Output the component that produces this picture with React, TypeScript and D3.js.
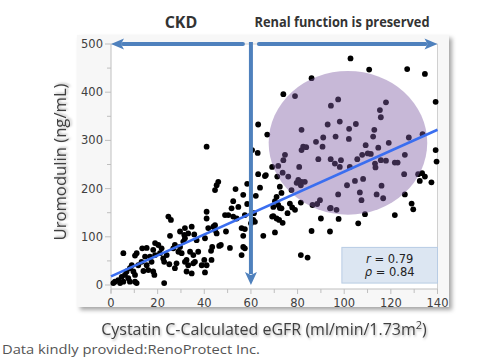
import React from "react";
import * as d3 from "d3";

// Cystatin C-calculated eGFR (ml/min/1.73m2)
const egfr: number[] = [
  102.7, 110.7, 127, 134.6, 139.2, 97.4, 94.3, 117.9, 115.3, 115.7, 98.1, 105, 92.9, 102.1, 112.9, 96.3, 102, 112.4, 119.1, 127.7,
  133.6, 109.2, 114.6, 107.7, 110.1, 111.4, 105.6, 126, 94.2, 98.6, 96, 113.2, 115.7, 117.9, 121.7, 122.9, 139.2, 139.6, 98.1, 113.4,
  102.4, 94.2, 96.7, 97.6, 93.9, 106, 108.9, 121.7, 97.4, 101.2, 104.6, 108.1, 106.7, 107.4, 113.9, 116.7, 116, 125.7, 126, 128.9,
  129.6, 131.7, 132.4, 134.6, 137.4, 133.4, 86, 73.9, 78.9, 63.1, 67, 81.7, 91, 87.9, 82.4, 81.7, 90.7, 74.6, 73.9, 80.7,
  88.9, 71.7, 73.6, 76, 80.3, 81.7, 79.6, 83.1, 81.4, 77.4, 71.3, 72.4, 69.1, 66, 58.4, 63.9, 56.7, 62.1, 71, 73.1,
  88.4, 86.4, 89.6, 93.9, 90, 81.4, 76.7, 72.4, 69.6, 78.9, 69.6, 72.1, 73.6, 75.7, 86, 65.3, 70.3, 57.4, 61.3, 58.4,
  63.1, 66.4, 62.9, 60.5, 83.7, 46, 53.4, 52.4, 54.6, 51.7, 48.9, 50.3, 52.4, 53.9, 57.4, 61, 60, 61.7, 70.3, 73.1,
  71.7, 69.1, 71, 77.7, 81.4, 84.3, 56.7, 56.7, 57.4, 56, 51, 47.1, 46.4, 49.3, 45.3, 44.6, 56, 45.3, 24.6, 25.7,
  41, 41, 25.3, 34.6, 31.4, 31.7, 35.7, 36.7, 40.3, 41.7, 43.9, 44.6, 43.4, 42.9, 43.1, 40.3, 38.9, 35.3, 33.1, 35.3,
  33.9, 32.4, 32.4, 34.6, 31.7, 30.3, 29.6, 28.9, 28.1, 27.4, 25, 22.4, 22.8, 18.9, 20.3, 18.1, 21.7, 21, 23.9, 22.8,
  18.9, 16.7, 17.4, 14.6, 15.3, 16, 18.1, 18.6, 13.9, 11.7, 13.1, 11, 10.3, 13.4, 15.3, 5.3, 8.9, 8.1, 6.7, 9.6,
  10.3, 6, 7.4, 4.6, 3.1, 1.7, 1, 5.3, 8.1, 10.3, 3.9, 11, 31, 27.4, 26.7, 37.4, 36, 40, 41, 33.1,
  29.6, 31.7, 44.6, 41,
];

// Uromodulin (ng/mL)
const uromodulin: number[] = [
  470, 447, 448, 438, 380, 385, 372, 379, 363, 348, 339, 334, 333, 324, 322, 308, 303, 308, 295, 306,
  313, 290, 285, 270, 273, 272, 261, 270, 261, 259, 252, 252, 259, 258, 254, 254, 280, 256, 245, 244,
  245, 160, 156, 137, 111, 128, 147, 145, 188, 207, 216, 220, 192, 176, 188, 180, 206, 230, 188, 169,
  157, 230, 216, 225, 213, 232, 429, 396, 392, 333, 312, 322, 306, 297, 287, 280, 287, 270, 259, 245,
  261, 247, 233, 225, 218, 214, 212, 214, 207, 197, 225, 204, 245, 226, 210, 202, 187, 185, 183, 191,
  168, 166, 176, 159, 138, 171, 169, 160, 162, 156, 143, 135, 129, 149, 112, 102, 109, 116, 149, 168,
  230, 228, 274, 280, 286, 214, 199, 174, 162, 159, 145, 145, 142, 138, 145, 135, 128, 131, 174, 159,
  166, 142, 138, 161, 62, 57, 102, 79, 76, 62, 77, 83, 81, 111, 107, 124, 118, 207, 142, 135,
  152, 138, 102, 121, 104, 97, 105, 93, 97, 118, 121, 114, 79, 71, 52, 26, 41, 45, 41, 62,
  69, 52, 28, 24, 48, 66, 79, 69, 45, 35, 43, 55, 4, 87, 83, 73, 76, 66, 62, 48,
  62, 59, 48, 59, 41, 31, 28, 21, 29, 41, 48, 66, 61, 76, 77, 66, 41, 35, 28, 28,
  21, 21, 14, 17, 10, 7, 4, 7, 7, 7, 4, 4, 90, 83, 76, 69, 48, 52, 41, 107,
  111, 118, 197, 287,
];

const xTicks = [0, 20, 40, 60, 80, 100, 120, 140];
const xMinorTicks = [10, 30, 50, 70, 90, 110, 130];
const yTicks = [0, 100, 200, 300, 400, 500];
const yMinorTicks = [50, 150, 250, 350, 450];

// regression line endpoints (eGFR, uromodulin)
const regX = [0, 140];
const regY = [18, 322];

// highlighted cluster (centre and radii in data units)
const clusterCenter = [101.6, 295];
const clusterRadii = [34, 149];

// CKD cut-off
const cutoff = 60;

const statLabels = ["r", "ρ"];
const statValues = ["0.79", "0.84"];

export default function App() {
  const x = d3.scaleLinear().domain([0, 140]).range([111, 437.5]);
  const y = d3.scaleLinear().domain([0, 500]).range([285, 44]);
  const axisY = 289;
  const arrowColor = "#4f81bd";
  const tickColor = "#bfbfbf";
  const labelColor = "#404040";

  const regLine = d3.line<number>()
    .x((_, i) => x(regX[i]))
    .y((_, i) => y(regY[i]));

  const points = egfr.map((e, i) => [e, uromodulin[i]]);

  const top = y(500);
  const left = x(0);
  const right = x(140);
  const cx = x(cutoff);
  const head = 13;
  const hw = 5.5;

  return (
    <svg width={500} height={360} style={{ position: "absolute", left: 0, top: 0 }} fontFamily="'Open Sans', sans-serif">
      <defs>
        <filter id="shadow" x="-5%" y="-5%" width="115%" height="115%">
          <feDropShadow dx="3" dy="3" stdDeviation="2" floodColor="#000" floodOpacity="0.35" />
        </filter>
        <filter id="tshadow" x="-10%" y="-30%" width="120%" height="160%">
          <feDropShadow dx="1" dy="1.5" stdDeviation="1.2" floodColor="#000" floodOpacity="0.3" />
        </filter>
      </defs>
      <rect x={0} y={0} width={500} height={360} fill="#ffffff" />
      {/* panel */}
      <rect x={77} y={35} width={372} height={272} fill="#f7f7f7" filter="url(#shadow)" />
      <rect x={left} y={top} width={right - left} height={axisY - top} fill="#ffffff" />
      <line x1={left} x2={right} y1={top} y2={top} stroke="#d0d0d0" />
      <line x1={right} x2={right} y1={top} y2={axisY} stroke="#d0d0d0" />

      {/* axes */}
      <line x1={left} x2={left} y1={top} y2={axisY + 4} stroke={tickColor} />
      <line x1={left} x2={right} y1={axisY} y2={axisY} stroke={tickColor} />
      {yTicks.map((t) => (
        <g key={"y" + t}>
          <line x1={left - 6} x2={left} y1={y(t)} y2={y(t)} stroke={tickColor} />
          <text x={left - 8} y={y(t)} dy="0.35em" textAnchor="end" fontSize={11.5} fontFamily="'DejaVu Sans', sans-serif" fill={labelColor}>{t}</text>
        </g>
      ))}
      {yMinorTicks.map((t) => (
        <line key={"ym" + t} x1={left - 4} x2={left} y1={y(t)} y2={y(t)} stroke={tickColor} />
      ))}
      {xTicks.map((t) => (
        <g key={"x" + t}>
          <line x1={x(t)} x2={x(t)} y1={axisY} y2={axisY + 5} stroke={tickColor} />
          <text x={x(t)} y={axisY + 14} dy="0.35em" textAnchor="middle" fontSize={11.5} fontFamily="'DejaVu Sans', sans-serif" fill={labelColor}>{t}</text>
        </g>
      ))}
      {xMinorTicks.map((t) => (
        <line key={"xm" + t} x1={x(t)} x2={x(t)} y1={axisY} y2={axisY + 4} stroke={tickColor} />
      ))}

      {/* points */}
      {points.map((p, i) => (
        <circle key={i} cx={x(p[0])} cy={y(p[1])} r={2.9} fill="#000" />
      ))}

      {/* cluster ellipse */}
      <ellipse
        cx={x(clusterCenter[0])}
        cy={y(clusterCenter[1])}
        rx={x(clusterCenter[0] + clusterRadii[0]) - x(clusterCenter[0])}
        ry={y(clusterCenter[1]) - y(clusterCenter[1] + clusterRadii[1])}
        fill="rgb(128,93,163)"
        fillOpacity={0.44}
      />

      {/* regression line */}
      <path d={regLine([0, 1]) || ""} stroke="#3a6ef0" strokeWidth={2.6} fill="none" />

      {/* stats box */}
      <rect x={x(99)} y={y(78)} width={x(140) - x(99)} height={y(4) - y(78)} fill="#dce6f2" stroke="#b8cce4" />
      {statLabels.map((s, i) => (
        <text key={s} x={(x(99) + x(140)) / 2} y={y(78) + 15.5 + i * 13.5} textAnchor="middle" fontSize={11.5} fontFamily="'DejaVu Sans', sans-serif" fill="#222">
          <tspan fontStyle="italic">{s}</tspan>
          <tspan> = {statValues[i]}</tspan>
        </text>
      ))}

      {/* arrows */}
      <line x1={cx - 8} x2={left + head - 1} y1={top} y2={top} stroke={arrowColor} strokeWidth={4} strokeLinecap="round" />
      <path d={`M${left},${top} L${left + head},${top - hw} L${left + head - 3},${top} L${left + head},${top + hw} Z`} fill={arrowColor} />
      <line x1={cx + 8} x2={right - head + 1} y1={top} y2={top} stroke={arrowColor} strokeWidth={4} strokeLinecap="round" />
      <path d={`M${right},${top} L${right - head},${top - hw} L${right - head + 3},${top} L${right - head},${top + hw} Z`} fill={arrowColor} />
      <line x1={cx} x2={cx} y1={top - 2} y2={y(0) - head + 2} stroke={arrowColor} strokeWidth={4} />
      <path d={`M${cx},${y(0)} L${cx - 6},${y(0) - head} L${cx},${y(0) - head + 3} L${cx + 6},${y(0) - head} Z`} fill={arrowColor} />

      {/* header labels */}
      <text x={(left + cx) / 2} y={28} textAnchor="middle" fontSize={16} fontWeight="bold" fill="#333">CKD</text>
      <text x={342} y={27} textAnchor="middle" fontSize={14} fontWeight="bold" fill="#333" textLength={175} lengthAdjust="spacingAndGlyphs">Renal function is preserved</text>

      {/* axis titles */}
      <text transform={`translate(66,162) rotate(-90)`} textAnchor="middle" fontSize={16} fill={labelColor} textLength={157} lengthAdjust="spacingAndGlyphs" filter="url(#tshadow)">Uromodulin (ng/mL)</text>
      <text x={264} y={335} textAnchor="middle" fontSize={16} fill={labelColor} filter="url(#tshadow)">
        Cystatin C-Calculated eGFR (ml/min/1.73m<tspan dy={-6} fontSize={11}>2</tspan><tspan dy={6}>)</tspan>
      </text>
      <text x={2} y={354} fontSize={12.5} fill="#555" textLength={258} lengthAdjust="spacingAndGlyphs">Data kindly provided:RenoProtect Inc.</text>
    </svg>
  );
}
